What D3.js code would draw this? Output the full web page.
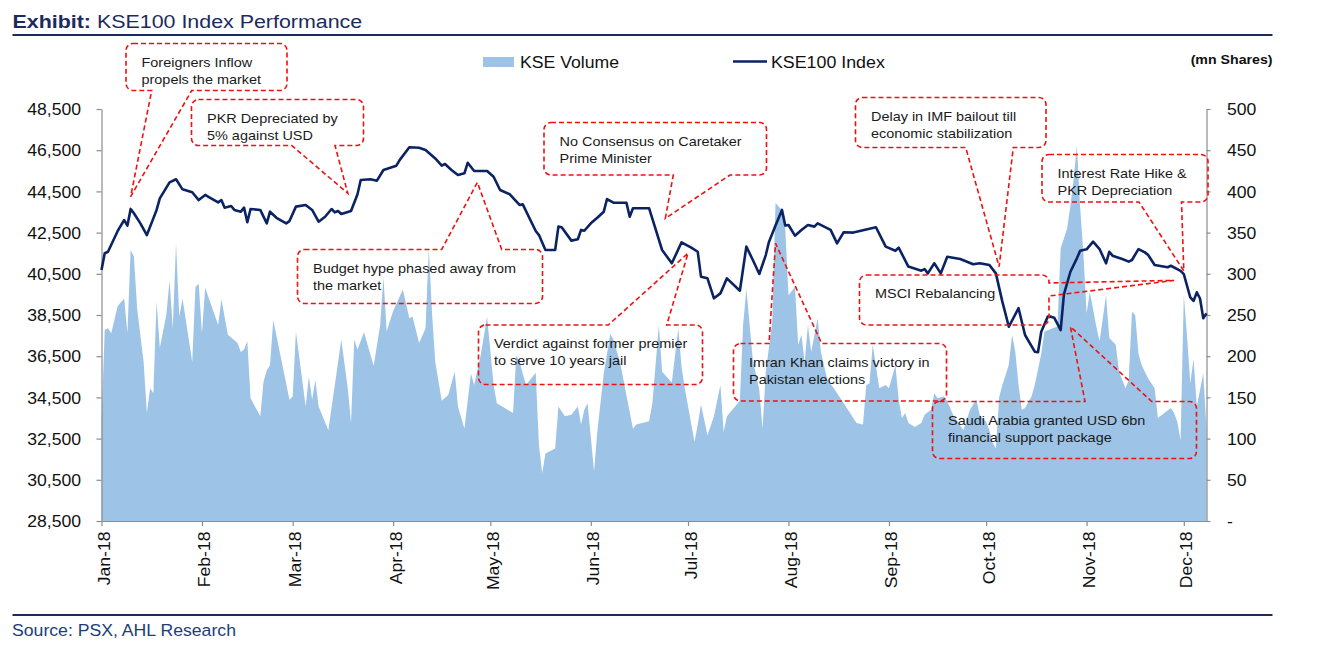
<!DOCTYPE html>
<html><head><meta charset="utf-8">
<script src="https://cdn.jsdelivr.net/npm/d3@7"></script>
<style>
html,body{margin:0;padding:0;background:#fff;}
svg{display:block;font-family:"Liberation Sans",Arial,sans-serif;}
</style></head><body>
<svg id="chart" width="1321" height="646"></svg>
<script>
// ---------------- DATA ----------------
const indexSeries = [
["2018-01-01",40680],["2018-01-02",41500],["2018-01-03",41570],["2018-01-06",42580],["2018-01-08",43110],
["2018-01-09",42840],["2018-01-10",43650],["2018-01-11",43440],["2018-01-13",42950],["2018-01-15",42380],
["2018-01-17",43190],["2018-01-18",43600],["2018-01-19",44160],["2018-01-22",44940],["2018-01-24",45090],
["2018-01-26",44600],["2018-01-29",44460],["2018-01-31",44080],["2018-02-02",44330],["2018-02-03",44240],
["2018-02-06",43970],["2018-02-07",44080],["2018-02-08",43710],["2018-02-10",43790],["2018-02-11",43600],
["2018-02-13",43515],["2018-02-14",43710],["2018-02-15",43000],["2018-02-16",43645],["2018-02-19",43600],
["2018-02-21",42950],["2018-02-22",43515],["2018-02-24",43220],["2018-02-27",42950],["2018-02-28",43060],
["2018-03-02",43760],["2018-03-05",43840],["2018-03-07",43600],["2018-03-09",43030],["2018-03-11",43270],
["2018-03-13",43645],["2018-03-14",43485],["2018-03-15",43550],["2018-03-16",43400],["2018-03-19",43550],
["2018-03-21",44360],["2018-03-22",45050],["2018-03-25",45090],["2018-03-27",45020],["2018-03-29",45540],
["2018-04-02",45750],["2018-04-03",46020],["2018-04-06",46640],["2018-04-09",46620],["2018-04-11",46510],
["2018-04-14",46100],["2018-04-16",45750],["2018-04-17",45830],["2018-04-19",45540],["2018-04-21",45300],
["2018-04-23",45380],["2018-04-24",45890],["2018-04-26",45490],["2018-04-30",45490],["2018-05-02",45210],
["2018-05-04",44570],["2018-05-07",44360],["2018-05-10",43840],["2018-05-11",43870],["2018-05-15",42580],
["2018-05-16",42380],["2018-05-18",41655],["2018-05-21",41655],["2018-05-22",42790],["2018-05-23",42760],
["2018-05-26",42110],["2018-05-28",42175],["2018-05-29",42630],["2018-05-30",42590],["2018-06-01",42950],
["2018-06-03",43220],["2018-06-05",43515],["2018-06-06",44130],["2018-06-08",43950],["2018-06-12",43950],
["2018-06-13",43270],["2018-06-14",43680],["2018-06-19",43680],["2018-06-23",41655],["2018-06-26",41010],
["2018-06-29",42030],["2018-07-02",41770],["2018-07-04",41570],["2018-07-05",40360],["2018-07-07",40280],
["2018-07-09",39310],["2018-07-11",39550],["2018-07-13",40280],["2018-07-17",39680],["2018-07-19",41820],
["2018-07-21",41170],["2018-07-23",40490],["2018-07-25",41410],["2018-07-26",42060],["2018-07-28",42840],
["2018-07-30",43600],["2018-07-31",42840],["2018-08-01",42870],["2018-08-03",42350],["2018-08-05",42630],
["2018-08-07",42870],["2018-08-09",42790],["2018-08-10",42950],["2018-08-14",42630],["2018-08-16",41980],
["2018-08-18",42515],["2018-08-21",42500],["2018-08-28",42760],["2018-08-31",41820],["2018-09-03",41620],
["2018-09-04",41770],["2018-09-07",40850],["2018-09-11",40650],["2018-09-12",40730],["2018-09-13",40520],
["2018-09-15",41010],["2018-09-17",40520],["2018-09-19",41330],["2018-09-23",41220],["2018-09-27",40960],
["2018-09-29",41010],["2018-10-02",40930],["2018-10-04",40520],["2018-10-06",39150],["2018-10-08",37930],
["2018-10-11",38830],["2018-10-13",37530],["2018-10-16",36720],["2018-10-17",36690],["2018-10-18",37690],
["2018-10-20",38420],["2018-10-21",38420],["2018-10-22",38370],["2018-10-24",37770],["2018-10-25",39500],
["2018-10-27",40600],["2018-10-29",41250],["2018-10-30",41620],["2018-11-01",41690],["2018-11-03",42060],
["2018-11-05",41700],["2018-11-07",41010],["2018-11-08",41570],["2018-11-09",41380],["2018-11-12",41220],
["2018-11-14",41090],["2018-11-15",41170],["2018-11-17",41700],["2018-11-19",41540],["2018-11-20",41410],
["2018-11-22",40930],["2018-11-26",40820],["2018-11-27",40890],["2018-11-30",40640],["2018-12-01",40480],
["2018-12-03",39350],["2018-12-04",39180],["2018-12-05",39600],["2018-12-06",39300],["2018-12-07",38340],
["2018-12-08",38580]
];

const volumeSeries = [
["2018-01-01",120],["2018-01-02",232],["2018-01-03",234],["2018-01-04",228],["2018-01-06",261],
["2018-01-08",270],["2018-01-09",228],["2018-01-10",329],["2018-01-11",321],["2018-01-12",258],
["2018-01-14",193],["2018-01-15",131],["2018-01-16",161],["2018-01-17",155],["2018-01-18",266],
["2018-01-19",210],["2018-01-21",250],["2018-01-22",292],["2018-01-23",234],["2018-01-24",337],
["2018-01-25",248],["2018-01-26",270],["2018-01-29",193],["2018-01-30",284],["2018-01-31",288],
["2018-02-01",228],["2018-02-02",283],["2018-02-06",238],["2018-02-07",269],["2018-02-09",226],
["2018-02-12",216],["2018-02-13",205],["2018-02-14",208],["2018-02-15",218],["2018-02-16",149],
["2018-02-19",127],["2018-02-20",169],["2018-02-21",183],["2018-02-22",189],["2018-02-23",244],
["2018-02-28",147],["2018-03-01",151],["2018-03-02",230],["2018-03-05",139],["2018-03-06",175],
["2018-03-07",147],["2018-03-08",171],["2018-03-09",139],["2018-03-12",110],["2018-03-16",220],
["2018-03-18",161],["2018-03-19",119],["2018-03-20",220],["2018-03-21",208],["2018-03-23",229],
["2018-03-26",188],["2018-03-28",238],["2018-03-29",296],["2018-03-30",230],["2018-04-01",255],
["2018-04-04",281],["2018-04-06",246],["2018-04-07",248],["2018-04-09",216],["2018-04-11",234],
["2018-04-12",331],["2018-04-13",252],["2018-04-14",193],["2018-04-16",146],["2018-04-18",153],
["2018-04-20",181],["2018-04-21",139],["2018-04-23",112],["2018-04-25",179],["2018-04-26",165],
["2018-04-28",201],["2018-04-30",248],["2018-05-02",165],["2018-05-03",143],["2018-05-08",131],
["2018-05-09",201],["2018-05-10",193],["2018-05-12",165],["2018-05-15",180],["2018-05-16",92],
["2018-05-17",58],["2018-05-18",82],["2018-05-21",88],["2018-05-22",139],["2018-05-24",127],
["2018-05-26",129],["2018-05-28",139],["2018-05-29",117],["2018-05-30",135],["2018-05-31",143],
["2018-06-02",60],["2018-06-03",108],["2018-06-05",179],["2018-06-07",227],["2018-06-08",220],
["2018-06-10",193],["2018-06-14",112],["2018-06-15",117],["2018-06-19",121],["2018-06-20",143],
["2018-06-22",238],["2018-06-23",181],["2018-06-26",168],["2018-06-28",234],["2018-06-29",187],
["2018-06-30",161],["2018-07-03",96],["2018-07-04",117],["2018-07-05",141],["2018-07-07",104],
["2018-07-09",127],["2018-07-11",165],["2018-07-12",108],["2018-07-13",127],["2018-07-17",146],
["2018-07-18",238],["2018-07-19",282],["2018-07-21",195],["2018-07-23",159],["2018-07-24",112],
["2018-07-25",181],["2018-07-27",242],["2018-07-28",386],["2018-07-30",377],["2018-07-31",355],
["2018-08-01",274],["2018-08-03",284],["2018-08-04",214],["2018-08-05",226],["2018-08-06",193],
["2018-08-07",238],["2018-08-08",205],["2018-08-10",246],["2018-08-11",205],["2018-08-13",171],
["2018-08-15",161],["2018-08-19",137],["2018-08-22",119],["2018-08-24",117],["2018-08-25",165],
["2018-08-26",167],["2018-08-27",214],["2018-08-29",161],["2018-08-31",165],["2018-09-01",161],
["2018-09-03",189],["2018-09-04",147],["2018-09-05",125],["2018-09-06",131],["2018-09-07",119],
["2018-09-09",114],["2018-09-11",119],["2018-09-12",129],["2018-09-14",135],["2018-09-15",155],
["2018-09-16",149],["2018-09-18",151],["2018-09-19",145],["2018-09-21",127],["2018-09-24",110],
["2018-09-26",135],["2018-09-28",147],["2018-09-29",129],["2018-10-01",120],["2018-10-02",110],
["2018-10-03",95],["2018-10-04",88],["2018-10-05",150],["2018-10-06",165],["2018-10-07",177],
["2018-10-08",190],["2018-10-09",226],["2018-10-10",205],["2018-10-11",165],["2018-10-12",135],
["2018-10-13",137],["2018-10-15",151],["2018-10-16",165],["2018-10-18",203],["2018-10-19",230],
["2018-10-23",236],["2018-10-24",331],["2018-10-26",355],["2018-10-27",383],["2018-10-28",414],
["2018-10-29",456],["2018-10-30",381],["2018-10-31",325],["2018-11-01",252],["2018-11-02",278],
["2018-11-04",236],["2018-11-05",218],["2018-11-06",246],["2018-11-07",274],["2018-11-08",222],
["2018-11-10",214],["2018-11-11",181],["2018-11-13",161],["2018-11-14",171],["2018-11-15",254],
["2018-11-16",250],["2018-11-17",203],["2018-11-18",189],["2018-11-20",173],["2018-11-22",161],
["2018-11-23",125],["2018-11-25",131],["2018-11-27",137],["2018-11-28",131],["2018-11-29",120],
["2018-11-30",98],["2018-12-01",274],["2018-12-02",224],["2018-12-03",167],["2018-12-04",197],
["2018-12-05",139],["2018-12-07",179],["2018-12-08",112]
];

const leftTicks = [28500,30500,32500,34500,36500,38500,40500,42500,44500,46500,48500];
const rightTicks = [0,50,100,150,200,250,300,350,400,450,500];
const monthTicks = ["2018-01-01","2018-02-01","2018-03-01","2018-04-01","2018-05-01","2018-06-01",
                    "2018-07-01","2018-08-01","2018-09-01","2018-10-01","2018-11-01","2018-12-01"];
const seriesNames = ["KSE Volume","KSE100 Index"];
const titleBold = "Exhibit:";
const titleRest = " KSE100 Index Performance";
const unitLabel = "(mn Shares)";
const sourceText = "Source: PSX, AHL Research";

const calloutTexts = [
  ["Foreigners Inflow","propels the market"],
  ["PKR Depreciated by","5% against USD"],
  ["Budget hype phased away from","the market"],
  ["No Consensus on Caretaker","Prime Minister"],
  ["Verdict against former premier","to serve 10 years jail"],
  ["Imran Khan claims victory in","Pakistan elections"],
  ["Delay in IMF bailout till","economic stabilization"],
  ["MSCI Rebalancing"],
  ["Interest Rate Hike &","PKR Depreciation"],
  ["Saudi Arabia granted USD 6bn","financial support package"]
];
// where each callout points, in data terms (date, index level)
const calloutTargets = [
  ["2018-01-10",44250],["2018-03-18",44410],["2018-04-27",44940],["2018-06-24",43190],["2018-07-01",41500],
  ["2018-07-28",41980],["2018-10-05",40850],["2018-11-28",40180],["2018-12-01",40640],["2018-10-27",37930]
];

// ---------------- LAYOUT ----------------
const calloutLayout = [
  {box:[126,43.5,287,90.5],   side:"bottom", a:151.7, b:191.7},
  {box:[191.5,99.5,363.5,145.5], side:"bottom", a:291.7, b:335},
  {box:[297.5,249.5,542.5,303.5], side:"top", a:441.7, b:501.7},
  {box:[544,122.5,766.5,175], side:"bottom", a:673.3, b:730},
  {box:[478.5,325,702.5,384.5], side:"top", a:608.3, b:666.7},
  {box:[733.5,343.5,946.5,401], side:"top", a:769, b:821.7},
  {box:[855.5,97.5,1046,147.5], side:"bottom", a:965.7, b:1013.3},
  {box:[859.5,275,1049,325], side:"right", a:283, b:296},
  {box:[1042,154.5,1208,202], side:"bottom", a:1139, b:1181.5},
  {box:[932.5,401.5,1196.5,458.5], side:"top", a:1085, b:1151.7}
];

const NAVY = "#1c2b5e";
const LINE = "#0b2363";
const VOL = "#9dc3e6";
const AXIS = "#8c8c8c";
const M = {left:101.5, right:1206.5, top:109, bottom:521};

const parse = d3.timeParse("%Y-%m-%d");
const svg = d3.select("#chart");

const x = d3.scaleTime().domain([parse("2018-01-01"), parse("2018-12-08")]).range([M.left, M.right]);
const yL = d3.scaleLinear().domain([28500,48500]).range([M.bottom, M.top]);
const yR = d3.scaleLinear().domain([0,500]).range([M.bottom, M.top]);

function txt(parent, px, py, s, o = {}) {
  const t = parent.append("text")
    .attr("transform", `translate(${px},${py})${o.rot ? ` rotate(${o.rot})` : ""} scale(${o.sx || 1},1)`)
    .attr("font-size", o.size || 16)
    .attr("font-weight", o.weight || "normal")
    .attr("text-anchor", o.anchor || "start")
    .attr("fill", o.fill || "#111");
  if (o.dy) t.attr("dy", o.dy);
  t.text(s);
  return t;
}

// Title
const title = svg.append("text")
  .attr("transform", "translate(12.5,27.5) scale(1.19,1)")
  .attr("font-size", 18).attr("fill", NAVY);
title.append("tspan").attr("font-weight", "bold").text(titleBold);
title.append("tspan").text(titleRest);
svg.append("line").attr("x1", 12.5).attr("x2", 1272.5).attr("y1", 35).attr("y2", 35)
  .attr("stroke", NAVY).attr("stroke-width", 2);

// Volume area
const vData = volumeSeries.map(d => ({date: parse(d[0]), v: d[1]}));
svg.append("path").datum(vData)
  .attr("fill", VOL)
  .attr("d", d3.area().x(d => x(d.date)).y0(yR(0)).y1(d => yR(d.v)));

// Axes
function styleAxis(g) {
  g.select(".domain").attr("stroke", AXIS).attr("stroke-width", 1.2);
  g.selectAll(".tick line").attr("stroke", AXIS).attr("stroke-width", 1.2);
}
const gL = svg.append("g").attr("transform", `translate(${M.left},0)`)
  .call(d3.axisLeft(yL).tickValues(leftTicks).tickFormat(d3.format(",")).tickSize(5).tickSizeOuter(0));
styleAxis(gL);
gL.selectAll(".tick text").each(function() {
  const t = d3.select(this);
  t.attr("x", null).attr("dy", "0.35em")
   .attr("transform", "translate(-20.5,0) scale(1.1,1)")
   .attr("font-size", 16).attr("font-family", "Liberation Sans, Arial, sans-serif").attr("fill", "#111");
});

const gR = svg.append("g").attr("transform", `translate(${M.right},0)`)
  .call(d3.axisRight(yR).tickValues(rightTicks).tickFormat(d => d === 0 ? "-" : d).tickSize(4).tickSizeOuter(0));
styleAxis(gR);
gR.selectAll(".tick text").each(function() {
  const t = d3.select(this);
  t.attr("x", null).attr("dy", "0.35em")
   .attr("transform", "translate(20.5,0) scale(1.1,1)")
   .attr("font-size", 16).attr("font-family", "Liberation Sans, Arial, sans-serif").attr("fill", "#111");
});

const gB = svg.append("g").attr("transform", `translate(0,${M.bottom})`)
  .call(d3.axisBottom(x).tickValues(monthTicks.map(parse)).tickFormat(d3.timeFormat("%b-%y")).tickSize(5).tickSizeOuter(0));
styleAxis(gB);
gB.selectAll(".tick text").each(function() {
  const t = d3.select(this);
  t.attr("x", null).attr("y", null).attr("dy", null)
   .attr("text-anchor", "end")
   .attr("transform", "translate(8,10.5) rotate(-90) scale(1.1,1)")
   .attr("font-size", 16).attr("font-family", "Liberation Sans, Arial, sans-serif").attr("fill", "#111");
});

// Index line
const iData = indexSeries.map(d => ({date: parse(d[0]), v: d[1]}));
svg.append("path").datum(iData)
  .attr("fill", "none").attr("stroke", LINE).attr("stroke-width", 2.6)
  .attr("stroke-linejoin", "round")
  .attr("d", d3.line().x(d => x(d.date)).y(d => yL(d.v)));

// Legend
svg.append("rect").attr("x", 483).attr("y", 57).attr("width", 31).attr("height", 10).attr("fill", VOL);
txt(svg, 520, 68.3, seriesNames[0], {size: 16.5, sx: 1.07});
svg.append("line").attr("x1", 733).attr("x2", 767).attr("y1", 61.5).attr("y2", 61.5)
  .attr("stroke", LINE).attr("stroke-width", 2.6);
txt(svg, 771, 68.3, seriesNames[1], {size: 16.5, sx: 1.08});
txt(svg, 1272.5, 63.5, unitLabel, {size: 13.5, weight: "bold", anchor: "end", sx: 1.05});

// Callouts
function calloutPath(L, tip) {
  const [x0, y0, x1, y1] = L.box, r = 7;
  const [tx, ty] = tip;
  const p = d3.path();
  p.moveTo(x0 + r, y0);
  if (L.side === "top") { p.lineTo(L.a, y0); p.lineTo(tx, ty); p.lineTo(L.b, y0); }
  p.lineTo(x1 - r, y0);
  p.arcTo(x1, y0, x1, y0 + r, r);
  if (L.side === "right") { p.lineTo(x1, L.a); p.lineTo(tx, ty); p.lineTo(x1, L.b); }
  p.lineTo(x1, y1 - r);
  p.arcTo(x1, y1, x1 - r, y1, r);
  if (L.side === "bottom") { p.lineTo(L.b, y1); p.lineTo(tx, ty); p.lineTo(L.a, y1); }
  p.lineTo(x0 + r, y1);
  p.arcTo(x0, y1, x0, y1 - r, r);
  p.lineTo(x0, y0 + r);
  p.arcTo(x0, y0, x0 + r, y0, r);
  p.closePath();
  return p.toString();
}
const gC = svg.append("g");
calloutLayout.forEach((L, i) => {
  const tgt = calloutTargets[i];
  const tip = [x(parse(tgt[0])), yL(tgt[1])];
  gC.append("path").attr("d", calloutPath(L, tip))
    .attr("fill", "none").attr("stroke", "#f01010").attr("stroke-width", 1.6)
    .attr("stroke-dasharray", "5,3");
  calloutTexts[i].forEach((line, k) => {
    txt(gC, L.box[0] + 15.5, L.box[1] + 23 + k * 17, line, {size: 13.5, sx: 1.07, fill: "#1a1a1a"});
  });
});

// Footer
svg.append("line").attr("x1", 12.5).attr("x2", 1272.5).attr("y1", 615).attr("y2", 615)
  .attr("stroke", NAVY).attr("stroke-width", 2);
txt(svg, 12, 636, sourceText, {size: 16.5, sx: 1.07, fill: "#203d7a"});
</script>
</body></html>
